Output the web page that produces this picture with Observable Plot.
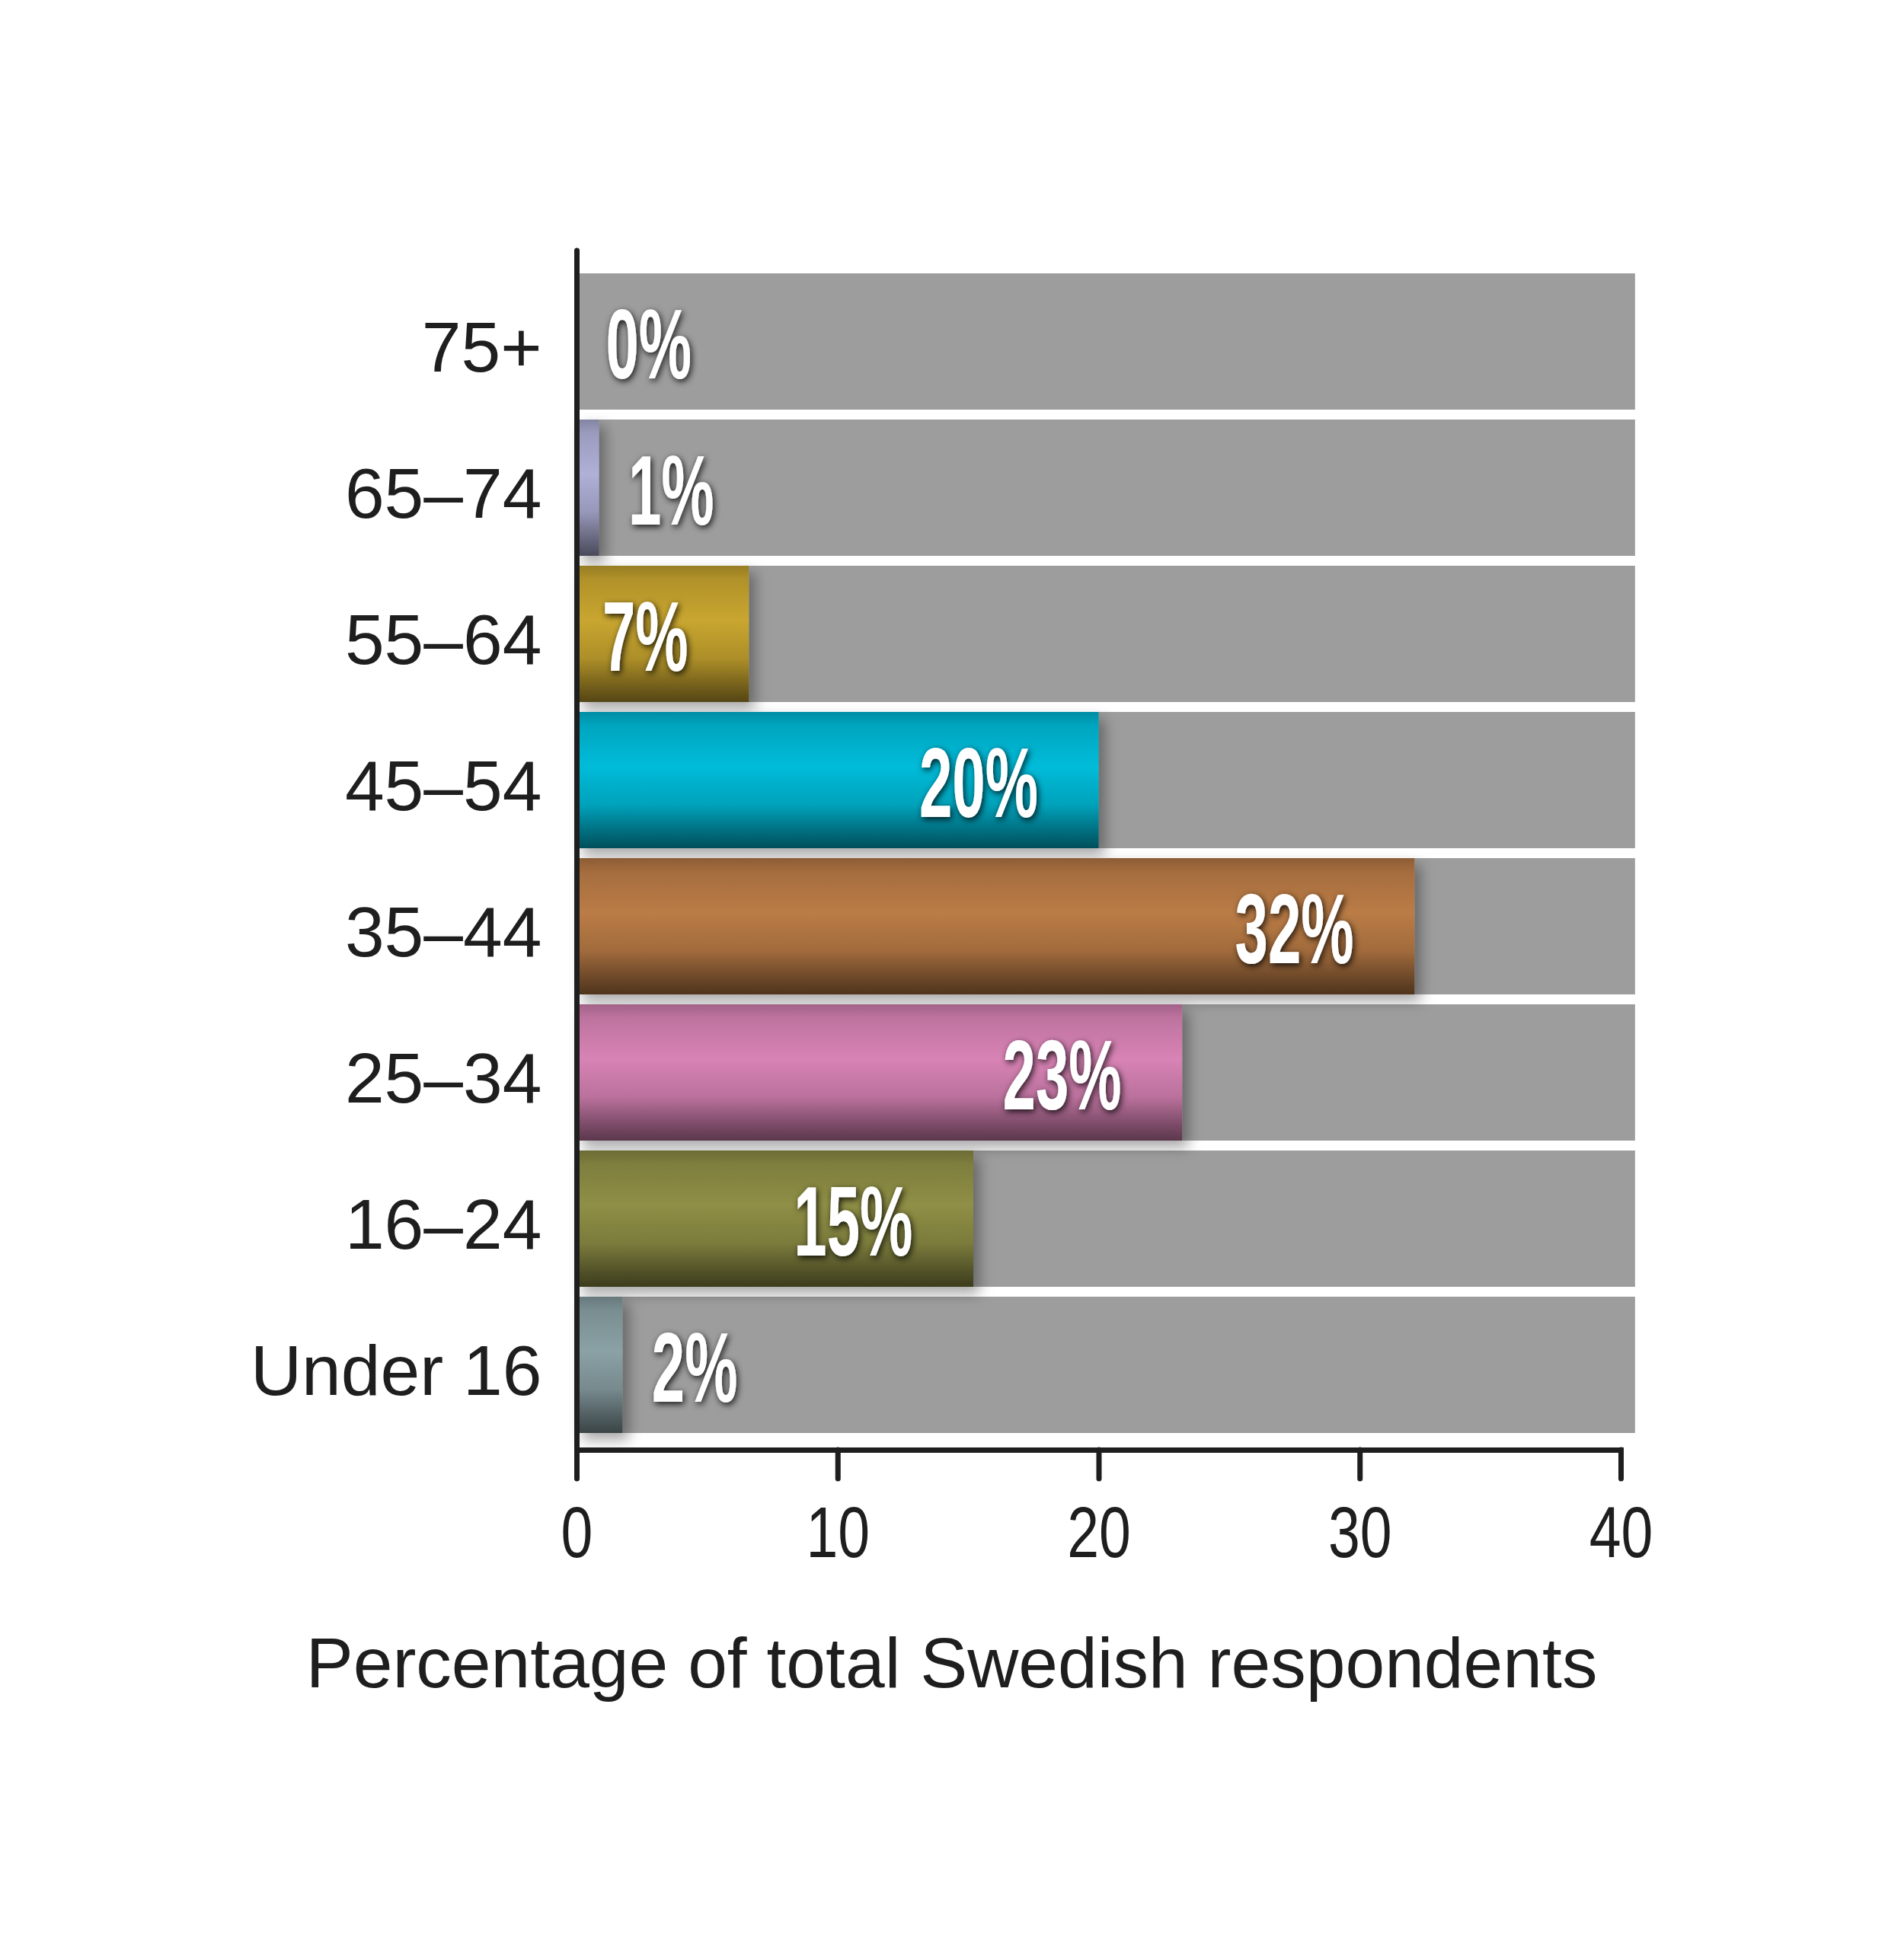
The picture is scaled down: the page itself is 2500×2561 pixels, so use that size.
<!DOCTYPE html>
<html>
<head>
<meta charset="utf-8">
<script src="https://cdn.jsdelivr.net/npm/d3@7"></script>
<script src="https://cdn.jsdelivr.net/npm/@observablehq/plot@0.6"></script>
<style>
  html, body { margin: 0; padding: 0; background: #ffffff; }
</style>
</head>
<body>
<div id="chart"></div>
<script>
// ---- data ----
const ageGroups   = ["75+", "65–74", "55–64", "45–54", "35–44", "25–34", "16–24", "Under 16"];
const shares      = [0, 0.86, 6.6, 20.0, 32.1, 23.2, 15.2, 1.76];
const valueLabels = ["0%", "1%", "7%", "20%", "32%", "23%", "15%", "2%"];
const barColors   = ["#9c9c9c", "#b0b0d8", "#c9a630", "#00bcd9", "#bb7c46", "#d883b5", "#8f8f46", "#8aa1a5"];
const trackMax    = 40.55;
const xTicks      = [0, 10, 20, 30, 40];
const xTitle      = "Percentage of total Swedish respondents";

const rows = ageGroups.map((g, i) => ({
  group: g, value: shares[i], label: valueLabels[i], color: barColors[i], i,
  inside: shares[i] >= 5
}));

const W = 2500, H = 2561;
const mL = 757, mR = 372, mT = 329, mB = 657;
const frameCx = (mL + (W - mR)) / 2;

const svg = Plot.plot({
  width: W, height: H,
  marginLeft: mL, marginRight: mR, marginTop: mT, marginBottom: mB,
  style: { background: "#ffffff", color: "#1e1e1e", fontFamily: "Liberation Sans, Arial, sans-serif" },
  x: { domain: [0, 40] },
  y: { domain: ageGroups, range: [358, 1882], paddingInner: 0.068, paddingOuter: 0, align: 0.5 },
  color: { type: "identity" },
  marks: [
    // grey tracks
    Plot.barX(rows, { y: "group", x1: () => 0, x2: () => trackMax, fill: "#9d9d9d" }),
    // coloured bars
    Plot.barX(rows, { y: "group", x1: () => 0, x2: "value", fill: d => `url(#grad${d.i})` }),
    // axes
    Plot.axisY({ tickSize: 0, tickPadding: 46, fontSize: 93, fontFamily: "Liberation Sans, Arial, sans-serif",
                 fill: "#1e1e1e", dy: 9, label: null }),
    Plot.axisX({ ticks: xTicks, tickSize: 38, tickPadding: 36, strokeWidth: 7, stroke: "#1e1e1e",
                 strokeLinecap: "round",
                 fontSize: 94, fontFamily: "Liberation Sans, Arial, sans-serif",
                 fill: "#1e1e1e", label: null }),
    Plot.ruleX([0], { stroke: "#1e1e1e", strokeWidth: 7, strokeLinecap: "round" }),
    Plot.frame({ anchor: "bottom", stroke: "#1e1e1e", strokeWidth: 7 }),
    // value labels
    Plot.text(rows.filter(d => d.inside), {
      y: "group", x: "value", text: "label", textAnchor: "end", lineAnchor: "middle",
      dx: -80, dy: 6, fill: "white", fontSize: 130, fontWeight: "bold",
      fontFamily: "Liberation Sans, Arial, sans-serif"
    }),
    Plot.text(rows.filter(d => !d.inside), {
      y: "group", x: "value", text: "label", textAnchor: "start", lineAnchor: "middle",
      dx: 38, dy: 6, fill: "white", fontSize: 130, fontWeight: "bold",
      fontFamily: "Liberation Sans, Arial, sans-serif"
    }),
    // x title
    Plot.text([xTitle], {
      text: d => d, frameAnchor: "bottom", textAnchor: "middle", lineAnchor: "middle",
      dx: 1249 - frameCx, dy: 282, fontSize: 93, fill: "#1e1e1e",
      fontFamily: "Liberation Sans, Arial, sans-serif"
    })
  ]
});

// ---- gradients / filters ----
const s = d3.select(svg);
const defs = s.insert("defs", ":first-child");
const mix = (c, k) => d3.interpolateRgb(c, "#000")(k);
rows.forEach(d => {
  const lg = defs.append("linearGradient").attr("id", `grad${d.i}`)
    .attr("x1", 0).attr("y1", 0).attr("x2", 0).attr("y2", 1);
  [[0, 0.25], [0.1, 0.12], [0.4, 0], [0.68, 0.14], [0.88, 0.42], [1, 0.58]].forEach(([o, k]) =>
    lg.append("stop").attr("offset", o).attr("stop-color", mix(d.color, k)));
});
const sh = defs.append("filter").attr("id", "barShadow")
  .attr("x", "-10%").attr("y", "-20%").attr("width", "130%").attr("height", "160%");
sh.append("feDropShadow").attr("dx", 8).attr("dy", 9).attr("stdDeviation", 9)
  .attr("flood-color", "#000").attr("flood-opacity", 0.35);
const gl = defs.append("filter").attr("id", "textGlow")
  .attr("x", "-30%").attr("y", "-30%").attr("width", "160%").attr("height", "160%");
gl.append("feDropShadow").attr("dx", 2).attr("dy", 3).attr("stdDeviation", 4)
  .attr("flood-color", "#000").attr("flood-opacity", 0.85);

const barGroups = svg.querySelectorAll('g[aria-label="bar"]');
if (barGroups.length > 1) barGroups[1].setAttribute("filter", "url(#barShadow)");

function squeeze(t, sx) {
  let tr = t.getAttribute("transform");
  if (!tr) {
    const x = t.getAttribute("x") || 0, y = t.getAttribute("y") || 0;
    t.removeAttribute("x"); t.removeAttribute("y");
    tr = `translate(${x},${y})`;
  }
  t.setAttribute("transform", tr + ` scale(${sx},1)`);
}

svg.querySelectorAll('g[aria-label="text"]').forEach(g => {
  if ((g.getAttribute("fill") || "").toLowerCase() === "white") {
    g.setAttribute("filter", "url(#textGlow)");
    g.querySelectorAll("text").forEach(t => squeeze(t, 0.6));
  }
});
svg.querySelectorAll('g[aria-label="x-axis tick label"] text').forEach(t => squeeze(t, 0.8));

document.getElementById("chart").appendChild(svg);
</script>
</body>
</html>
